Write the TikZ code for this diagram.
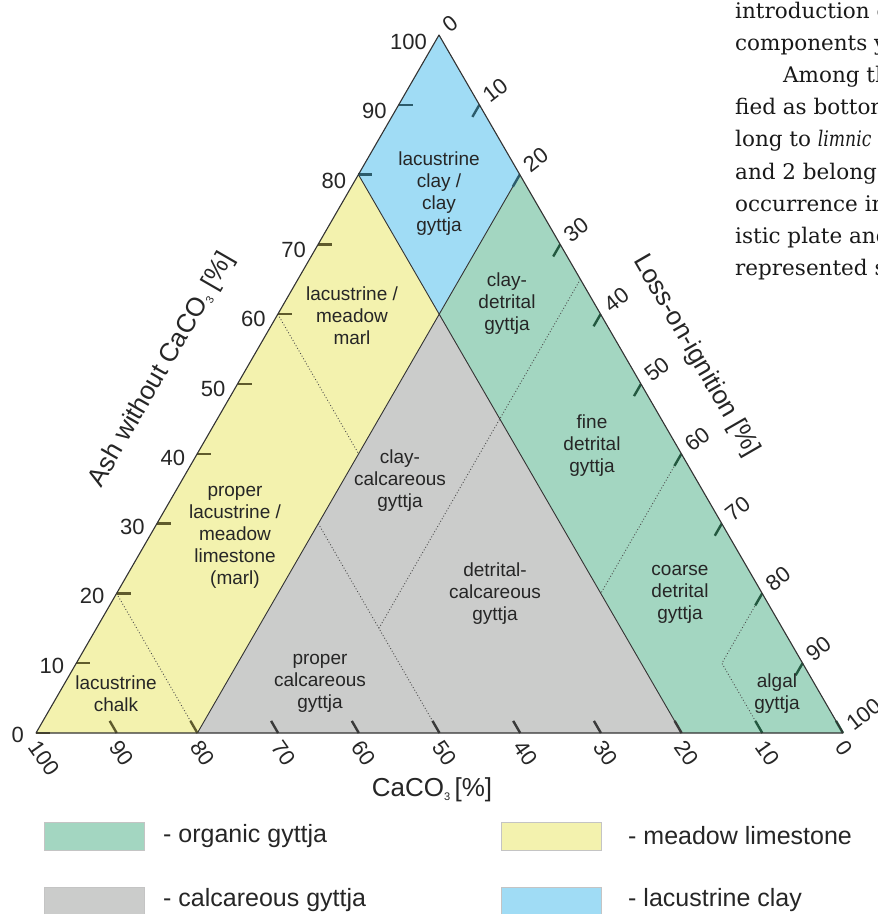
\documentclass[tikz,border=0pt]{standalone}
\usepackage{fontspec}
\usepackage{graphicx}
\setmainfont{Liberation Sans}
\newfontfamily\pagefont{DejaVu Serif}
\definecolor{orgG}{HTML}{A3D6C1}
\definecolor{meadY}{HTML}{F3F2AE}
\definecolor{clayB}{HTML}{A0DCF5}
\definecolor{calcG}{HTML}{CBCCCB}
\definecolor{tkOl}{HTML}{5F5B2C}
\definecolor{tkBl}{HTML}{2C5C6C}
\definecolor{tkGn}{HTML}{22583F}
\definecolor{tkGy}{HTML}{3A3A3A}
\definecolor{lgBord}{HTML}{C4C4C4}
\definecolor{txt}{HTML}{262626}
\newcommand{\tpc}[3]{\coordinate (#1) at ({36+4.03*(#2)+8.07*(#3)},{733-6.98*(#2)});}
\newcommand{\smallsub}{\raisebox{-0.25ex}{\fontsize{11}{11}\selectfont 3}}
\begin{document}
\begin{tikzpicture}[x=1pt,y=-1pt,
  edge/.style={draw=black!80, line width=1.1pt, line join=round},
  bnd/.style={draw=black!80, line width=0.9pt},
  dots/.style={draw=black!70, line width=0.9pt, dash pattern=on 0.9pt off 2.1pt},
  tk/.style={line width=2.4pt},
  region/.style={font=\fontsize{19}{22}\selectfont, text=txt, align=center, inner sep=0pt},
  lnum/.style={font=\fontsize{22}{24}\selectfont, text=txt, inner sep=0pt},
  atitle/.style={font=\fontsize{26}{28}\selectfont, text=txt, inner sep=0pt},
  lgbox/.style={draw=lgBord, line width=1pt},
  lgtext/.style={font=\fontsize{25}{28}\selectfont, text=txt, anchor=west, inner sep=0pt},
  ptext/.style={font=\pagefont\fontsize{21.5}{24}\selectfont, text=black!90, anchor=base west, inner sep=0pt}
]
\useasboundingbox (0,0) rectangle (878,914);
% page text on the right
\begin{scope}
\clip (700,0) rectangle (878,300);
\node[ptext] (t1) at (735,18) {introduction of};
\node[ptext] (t2) at (735,50.2) {components yi};
\node[ptext] (t3) at (783,82.4) {Among the};
\node[ptext] (t4) at (735,114.6) {fied as bottom};
\node[ptext] (t5) at (735,146.8) {long to \scalebox{0.8}[1]{\textit{limnic}}};
\node[ptext] (t6) at (735,179) {and 2 belong t};
\node[ptext] (t7) at (735,211.2) {occurrence in};
\node[ptext] (t8) at (735,243.4) {istic plate and};
\node[ptext] (t9) at (735,275.6) {represented s};
\end{scope}
% key points
\tpc{A}{0}{0}
\tpc{B}{0}{100}
\tpc{C}{100}{0}
\tpc{L80}{80}{0}
\tpc{R20}{80}{20}
\tpc{M}{60}{20}
\tpc{B80}{0}{20}
\tpc{B20}{0}{80}
% regions
\fill[meadY] (A) -- (L80) -- (M) -- (B80) -- cycle;
\fill[clayB] (L80) -- (C) -- (R20) -- (M) -- cycle;
\fill[orgG] (R20) -- (B) -- (B20) -- (M) -- cycle;
\fill[calcG] (B80) -- (M) -- (B20) -- cycle;
% dotted sub-boundaries
\tpc{d1a}{60}{0}
\tpc{d1b}{40}{20}
\tpc{d2a}{20}{0}
\tpc{d2b}{0}{20}
\tpc{d3a}{30}{20}
\tpc{d3b}{0}{50}
\tpc{d4a}{65}{35}
\tpc{d4b}{15}{35}
\tpc{d5a}{40}{60}
\tpc{d5b}{20}{60}
\tpc{d6a}{20}{80}
\tpc{d6b}{10}{80}
\tpc{d6c}{0}{90}
\draw[dots] (d1a) -- (d1b);
\draw[dots] (d2a) -- (d2b);
\draw[dots] (d3a) -- (d3b);
\draw[dots] (d4a) -- (d4b);
\draw[dots] (d5a) -- (d5b);
\draw[dots] (d6a) -- (d6b) -- (d6c);
% region boundaries
\draw[bnd] (L80) -- (M) -- (R20);
\draw[bnd] (B80) -- (M) -- (B20);
% ticks: left axis
\foreach \a/\col in {0/tkOl,10/tkOl,20/tkOl,30/tkOl,40/tkOl,50/tkOl,60/tkOl,70/tkOl,80/tkBl,90/tkBl}
  \draw[tk,\col] ({36+4.03*\a},{733-6.98*\a}) -- ++(14,0);
% ticks: bottom axis
\foreach \c/\col in {90/tkOl,80/tkOl,70/tkGy,60/tkGy,50/tkGy,40/tkGy,30/tkGy,20/tkGy,10/tkGn,0/tkGn}
  \draw[tk,\col] ({36+8.07*(100-\c)},733) -- ++(-7,-12.1);
% ticks: right axis
\foreach \l/\col in {10/tkBl,20/tkBl,30/tkGn,40/tkGn,50/tkGn,60/tkGn,70/tkGn,80/tkGn,90/tkGn}
  \draw[tk,\col] ({439+4.04*\l},{35+6.98*\l}) -- ++(-7,12.1);
% outer triangle
\draw[edge] (A) -- (B) -- (C) -- cycle;
% axis numbers
\foreach \a in {0,10,...,100}
  \node[lnum,anchor=east] (lv\a) at ({36+4.03*\a-12},{733-6.98*\a+2+0.05*\a}) {\a};
\foreach \c in {0,10,...,100}
  \node[lnum,anchor=west,rotate=-55] (bv\c) at ({36+8.07*(100-\c)-2},743) {\c};
\foreach \l in {0,10,...,100}
  \node[lnum,anchor=west,rotate=38] (rv\l) at ({439+4.04*\l+6},{35+6.98*\l-7}) {\l};
% axis titles
\node[atitle,rotate=60] (tAsh) at (162,370) {Ash without CaCO\smallsub\ [\%]};
\node[atitle,rotate=-60] (tLoi) at (696,356) {Loss-on-ignition [\%]};
\node[atitle] (tCa) at (432,790) {CaCO\smallsub\,[\%]};
% region labels
\node[region] (r1) at (439,194) {lacustrine\\clay /\\clay\\gyttja};
\node[region] (r2) at (352,316) {lacustrine /\\meadow\\marl};
\node[region] (r3) at (507,304) {clay-\\detrital\\gyttja};
\node[region] (r4) at (400,481) {clay-\\calcareous\\gyttja};
\node[region] (r5) at (592,446) {fine\\detrital\\gyttja};
\node[region] (r6) at (235,537) {proper\\lacustrine /\\meadow\\limestone\\(marl)};
\node[region] (r7) at (495,594) {detrital-\\calcareous\\gyttja};
\node[region] (r8) at (680,594) {coarse\\detrital\\gyttja};
\node[region] (r9) at (320,683) {proper\\calcareous\\gyttja};
\node[region] (r10) at (116,694) {lacustrine\\chalk};
\node[region] (r11) at (777,694) {algal\\gyttja};
% legend
\fill[orgG] (44,822) rectangle (144,850);
\draw[lgbox] (44,822) rectangle (144,850);
\fill[calcG] (44,887) rectangle (144,915);
\draw[lgbox] (44,887) rectangle (144,915);
\fill[meadY] (501,822) rectangle (601,850);
\draw[lgbox] (501,822) rectangle (601,850);
\fill[clayB] (501,887) rectangle (601,915);
\draw[lgbox] (501,887) rectangle (601,915);
\node[lgtext] (g1) at (163,836) {- organic gyttja};
\node[lgtext] (g2) at (163,900) {- calcareous gyttja};
\node[lgtext] (g3) at (628,836) {- meadow limestone};
\node[lgtext] (g4) at (628,900) {- lacustrine clay};
\end{tikzpicture}
\end{document}
